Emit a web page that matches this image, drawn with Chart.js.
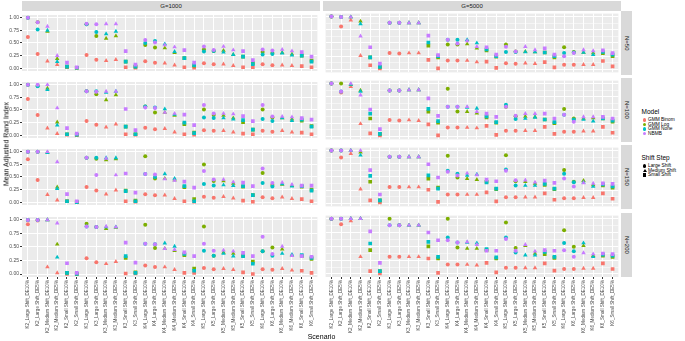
<!DOCTYPE html>
<html>
<head>
<meta charset="utf-8">
<script src="https://cdn.jsdelivr.net/npm/chart.js@4"></script>
<style>
body { margin: 0; background: #fff; }
#wrap { position: relative; width: 685px; height: 341px; overflow: hidden; font-family: "Liberation Sans", Arial, sans-serif; }
.pan { position: absolute; }
.strip { position: absolute; background: #D9D9D9; color: #1A1A1A; font-size: 6px; display: flex; align-items: center; justify-content: center; }
.vstrip span { writing-mode: vertical-rl; }
.lab { position: absolute; color: #000; white-space: nowrap; }
.ltxt { position: absolute; font-size: 4.8px; color: #000; white-space: nowrap; line-height: 1; }
.key { position: absolute; }
</style>
</head>
<body>
<div id="wrap"></div>
<script>
const categories = [
  "K2_Large Shift_DE10%", "K2_Large Shift_DE5%", "K2_Medium Shift_DE10%", "K2_Medium Shift_DE5%", "K2_Small Shift_DE10%", "K2_Small Shift_DE5%",
  "K3_Large Shift_DE10%", "K3_Large Shift_DE5%", "K3_Medium Shift_DE10%", "K3_Medium Shift_DE5%", "K3_Small Shift_DE10%", "K3_Small Shift_DE5%",
  "K4_Large Shift_DE10%", "K4_Large Shift_DE5%", "K4_Medium Shift_DE10%", "K4_Medium Shift_DE5%", "K4_Small Shift_DE10%", "K4_Small Shift_DE5%",
  "K5_Large Shift_DE10%", "K5_Large Shift_DE5%", "K5_Medium Shift_DE10%", "K5_Medium Shift_DE5%", "K5_Small Shift_DE10%", "K5_Small Shift_DE5%",
  "K6_Large Shift_DE10%", "K6_Large Shift_DE5%", "K6_Medium Shift_DE10%", "K6_Medium Shift_DE5%", "K6_Small Shift_DE10%", "K6_Small Shift_DE5%"
];
const models = ["GMM Binom", "GMM Log", "GMM None", "NBMB"];
const modelColors = ["#F8766D", "#7CAE00", "#00BFC4", "#C77CFF"];
const shiftSteps = ["Large Shift", "Medium Shift", "Small Shift"];
const groups = ["G=1000", "G=5000"];
const sampleSizes = ["N=50", "N=100", "N=150", "N=200"];
const yTickLabels = ["0.00", "0.25", "0.50", "0.75", "1.00"];

// G=1000
const g1000_n50_binom = [0.62,0.28,0.14,0.07,0.02,0.01, 0.26,0.17,0.15,0.17,0.02,0.01, 0.14,0.11,0.10,0.06,0.02,0.01, 0.10,0.08,0.08,0.05,0.02,0.02, 0.08,0.06,0.06,0.05,0.04,0.02];
const g1000_n50_log   = [1.00,0.91,0.73,0.19,0.03,0.01, 0.87,0.64,0.59,0.64,0.13,0.03, 0.46,0.41,0.40,0.31,0.20,0.05, 0.37,0.34,0.35,0.27,0.23,0.10, 0.32,0.30,0.31,0.28,0.25,0.15];
const g1000_n50_none  = [1.00,0.77,0.75,0.13,0.03,0.01, 0.87,0.72,0.68,0.73,0.13,0.03, 0.50,0.54,0.48,0.33,0.20,0.06, 0.33,0.34,0.32,0.27,0.23,0.08, 0.27,0.28,0.30,0.26,0.25,0.13];
const g1000_n50_nbmb  = [1.00,0.91,0.83,0.25,0.11,0.02, 0.88,0.87,0.88,0.88,0.34,0.07, 0.56,0.51,0.46,0.42,0.36,0.11, 0.43,0.36,0.43,0.36,0.34,0.16, 0.37,0.35,0.37,0.34,0.32,0.23];

const g1000_n100_binom = [0.72,0.40,0.14,0.03,0.01,0.00, 0.28,0.21,0.16,0.22,0.02,0.01, 0.15,0.12,0.13,0.06,0.02,0.01, 0.10,0.09,0.09,0.06,0.03,0.02, 0.09,0.07,0.09,0.06,0.05,0.02];
const g1000_n100_log   = [1.00,0.98,0.93,0.26,0.02,0.01, 0.87,0.81,0.70,0.80,0.17,0.02, 0.57,0.45,0.45,0.39,0.22,0.05, 0.51,0.40,0.39,0.34,0.26,0.11, 0.51,0.35,0.34,0.32,0.29,0.18];
const g1000_n100_none  = [1.00,0.97,0.90,0.20,0.02,0.01, 0.87,0.87,0.85,0.87,0.17,0.02, 0.57,0.55,0.52,0.41,0.25,0.04, 0.35,0.34,0.34,0.32,0.30,0.11, 0.32,0.28,0.34,0.29,0.31,0.17];
const g1000_n100_nbmb  = [1.00,1.00,1.00,0.54,0.14,0.03, 0.87,0.86,0.87,0.87,0.52,0.10, 0.55,0.54,0.45,0.43,0.41,0.20, 0.60,0.43,0.43,0.42,0.38,0.28, 0.60,0.37,0.37,0.36,0.34,0.31];

const g1000_n150_binom = [0.85,0.44,0.15,0.04,0.02,0.00, 0.30,0.23,0.16,0.24,0.02,0.01, 0.16,0.14,0.14,0.07,0.02,0.01, 0.11,0.09,0.11,0.08,0.03,0.01, 0.10,0.08,0.10,0.07,0.06,0.02];
const g1000_n150_log   = [1.00,1.00,0.99,0.30,0.02,0.00, 0.88,0.86,0.84,0.86,0.23,0.03, 0.91,0.47,0.47,0.44,0.30,0.06, 0.75,0.42,0.42,0.37,0.31,0.14, 0.58,0.34,0.35,0.33,0.31,0.25];
const g1000_n150_none  = [1.00,1.00,0.98,0.27,0.02,0.00, 0.88,0.88,0.88,0.88,0.22,0.02, 0.56,0.50,0.56,0.47,0.32,0.02, 0.36,0.33,0.34,0.33,0.32,0.14, 0.38,0.31,0.36,0.32,0.32,0.23];
const g1000_n150_nbmb  = [1.00,1.00,1.00,0.80,0.16,0.02, 0.88,0.54,0.87,0.54,0.57,0.19, 0.56,0.55,0.46,0.43,0.41,0.29, 0.62,0.45,0.45,0.40,0.39,0.32, 0.67,0.38,0.39,0.35,0.33,0.33];

const g1000_n200_binom = [0.92,0.99,0.13,0.02,0.00,0.00, 0.29,0.22,0.19,0.23,0.01,0.01, 0.16,0.13,0.13,0.08,0.02,0.02, 0.11,0.09,0.10,0.08,0.03,0.00, 0.09,0.08,0.10,0.07,0.06,0.02];
const g1000_n200_log   = [1.00,1.00,1.00,0.55,0.02,0.00, 0.93,0.87,0.84,0.86,0.30,0.03, 0.91,0.48,0.47,0.43,0.35,0.10, 0.88,0.34,0.40,0.38,0.34,0.23, 0.42,0.49,0.46,0.34,0.33,0.28];
const g1000_n200_none  = [1.00,1.00,1.00,0.31,0.02,0.00, 0.88,0.87,0.87,0.87,0.33,0.02, 0.56,0.55,0.57,0.51,0.37,0.06, 0.43,0.34,0.38,0.33,0.33,0.19, 0.42,0.34,0.38,0.36,0.35,0.30];
const g1000_n200_nbmb  = [1.00,1.00,1.00,0.94,0.20,0.02, 0.88,0.87,0.88,0.87,0.58,0.21, 0.56,0.55,0.47,0.45,0.40,0.33, 0.56,0.43,0.44,0.42,0.39,0.33, 0.69,0.37,0.51,0.34,0.33,0.32];

// G=5000
const g5000_n50_binom = [1.00,0.81,0.93,0.26,0.08,0.02, 0.31,0.30,0.31,0.31,0.18,0.02, 0.17,0.17,0.17,0.14,0.15,0.03, 0.12,0.11,0.12,0.11,0.14,0.04, 0.09,0.09,0.09,0.09,0.16,0.06];
const g5000_n50_log   = [1.00,0.99,0.99,0.91,0.23,0.05, 0.88,0.88,0.88,0.88,0.45,0.23, 0.47,0.47,0.48,0.40,0.36,0.24, 0.47,0.34,0.34,0.33,0.32,0.23, 0.42,0.33,0.32,0.31,0.31,0.25];
const g5000_n50_none  = [1.00,0.99,0.99,0.86,0.23,0.05, 0.88,0.88,0.88,0.88,0.51,0.25, 0.56,0.56,0.56,0.50,0.38,0.25, 0.33,0.33,0.33,0.33,0.32,0.25, 0.31,0.32,0.32,0.28,0.33,0.28];
const g5000_n50_nbmb  = [1.00,0.99,0.99,0.63,0.42,0.11, 0.88,0.88,0.88,0.88,0.64,0.27, 0.56,0.49,0.54,0.43,0.42,0.28, 0.43,0.34,0.43,0.37,0.40,0.28, 0.25,0.31,0.37,0.35,0.36,0.31];

const g5000_n100_binom = [1.00,0.83,0.94,0.24,0.06,0.02, 0.31,0.30,0.31,0.30,0.23,0.02, 0.17,0.17,0.17,0.16,0.20,0.03, 0.11,0.11,0.11,0.11,0.18,0.05, 0.09,0.09,0.10,0.10,0.18,0.07];
const g5000_n100_log   = [1.00,1.00,0.98,0.87,0.34,0.05, 0.87,0.87,0.88,0.88,0.47,0.26, 0.90,0.47,0.47,0.44,0.36,0.26, 0.56,0.38,0.38,0.37,0.32,0.25, 0.52,0.34,0.34,0.35,0.34,0.28];
const g5000_n100_none  = [1.00,0.85,0.98,0.85,0.43,0.05, 0.87,0.87,0.88,0.88,0.52,0.29, 0.56,0.56,0.55,0.53,0.38,0.27, 0.60,0.33,0.34,0.36,0.32,0.27, 0.41,0.32,0.32,0.29,0.34,0.30];
const g5000_n100_nbmb  = [1.00,0.85,1.00,0.78,0.51,0.14, 0.87,0.87,0.88,0.88,0.72,0.39, 0.56,0.56,0.56,0.47,0.43,0.37, 0.56,0.39,0.43,0.43,0.43,0.34, 0.41,0.28,0.37,0.37,0.37,0.34];

const g5000_n150_binom = [1.00,0.87,0.94,0.27,0.06,0.02, 0.31,0.31,0.31,0.31,0.26,0.03, 0.17,0.17,0.17,0.17,0.21,0.04, 0.12,0.12,0.12,0.12,0.19,0.07, 0.10,0.10,0.11,0.11,0.19,0.09];
const g5000_n150_log   = [1.00,1.00,1.00,0.97,0.41,0.06, 0.88,0.88,0.88,0.88,0.47,0.30, 0.90,0.49,0.47,0.45,0.41,0.27, 0.91,0.42,0.41,0.38,0.35,0.27, 0.63,0.41,0.43,0.35,0.34,0.30];
const g5000_n150_none  = [1.00,1.00,1.00,0.91,0.52,0.06, 0.88,0.88,0.88,0.88,0.53,0.28, 0.62,0.56,0.53,0.55,0.40,0.28, 0.64,0.34,0.34,0.34,0.37,0.28, 0.56,0.40,0.40,0.32,0.36,0.32];
const g5000_n150_nbmb  = [1.00,1.00,1.00,1.00,0.63,0.17, 0.88,0.88,0.88,0.88,0.74,0.49, 0.60,0.53,0.57,0.54,0.45,0.42, 0.62,0.44,0.44,0.40,0.43,0.39, 0.47,0.32,0.39,0.38,0.38,0.37];

const g5000_n200_binom = [1.00,0.90,0.96,0.31,0.05,0.01, 0.31,0.31,0.31,0.31,0.28,0.02, 0.17,0.17,0.17,0.16,0.20,0.03, 0.11,0.11,0.11,0.11,0.19,0.06, 0.09,0.09,0.10,0.10,0.19,0.09];
const g5000_n200_log   = [1.00,1.00,1.00,1.00,0.43,0.05, 1.00,0.88,0.88,0.88,0.50,0.28, 1.00,0.48,0.46,0.46,0.43,0.28, 0.93,0.47,0.51,0.37,0.36,0.29, 0.79,0.49,0.51,0.33,0.33,0.31];
const g5000_n200_none  = [1.00,1.00,1.00,1.00,0.55,0.05, 0.88,0.88,0.88,0.88,0.58,0.31, 0.66,0.57,0.57,0.56,0.45,0.30, 0.66,0.39,0.34,0.34,0.40,0.31, 0.56,0.41,0.56,0.31,0.35,0.33];
const g5000_n200_nbmb  = [1.00,1.00,1.00,1.00,0.77,0.20, 0.88,0.88,0.88,0.88,0.75,0.61, 0.61,0.57,0.58,0.53,0.42,0.42, 0.63,0.42,0.53,0.41,0.43,0.42, 0.43,0.31,0.38,0.36,0.37,0.36];

// panels[row][col] -> series in model order
const panels = [
  [[g1000_n50_binom, g1000_n50_log, g1000_n50_none, g1000_n50_nbmb], [g5000_n50_binom, g5000_n50_log, g5000_n50_none, g5000_n50_nbmb]],
  [[g1000_n100_binom, g1000_n100_log, g1000_n100_none, g1000_n100_nbmb], [g5000_n100_binom, g5000_n100_log, g5000_n100_none, g5000_n100_nbmb]],
  [[g1000_n150_binom, g1000_n150_log, g1000_n150_none, g1000_n150_nbmb], [g5000_n150_binom, g5000_n150_log, g5000_n150_none, g5000_n150_nbmb]],
  [[g1000_n200_binom, g1000_n200_log, g1000_n200_none, g1000_n200_nbmb], [g5000_n200_binom, g5000_n200_log, g5000_n200_none, g5000_n200_nbmb]]
];

const shapeOf = { "Large Shift": "circle", "Medium Shift": "triangle", "Small Shift": "rect" };
const radiusOf = { circle: 2.0, triangle: 2.6, rect: 2.6 };
const catShape = categories.map(c => shapeOf[c.split("_")[1]]);

// layout (px)
const colLeft = [0, 323];
const yAxisW = 22;
const panelW = 298;
const rowTop = [11, 78, 145, 213];
const panelH = 64;
const xAxisH = 64;

const wrap = document.getElementById("wrap");

const panelBg = {
  id: "panelBg",
  beforeDraw(chart) {
    const a = chart.chartArea, ctx = chart.ctx;
    ctx.save();
    ctx.fillStyle = "#EBEBEB";
    ctx.fillRect(a.left, a.top, a.right - a.left, a.bottom - a.top);
    ctx.restore();
  }
};

const isMajor = v => Math.abs(v * 4 - Math.round(v * 4)) < 1e-6;

function makePanel(row, col) {
  const w = (col === 0 ? yAxisW : 0) + panelW;
  const h = panelH + (row === 3 ? xAxisH : 0);
  const div = document.createElement("div");
  div.className = "pan";
  div.style.left = (col === 0 ? colLeft[0] : colLeft[1]) + "px";
  div.style.top = rowTop[row] + "px";
  const cv = document.createElement("canvas");
  cv.width = w; cv.height = h;
  cv.style.width = w + "px"; cv.style.height = h + "px";
  div.appendChild(cv);
  wrap.appendChild(div);

  const series = panels[row][col];
  new Chart(cv, {
    type: "line",
    data: {
      datasets: models.map((m, k) => ({
        label: m,
        data: series[k].map((v, i) => ({ x: i, y: v })),
        showLine: false,
        order: models.length - 1 - k,
        pointBackgroundColor: modelColors[k],
        pointBorderWidth: 0,
        pointBorderColor: modelColors[k],
        pointStyle: ctx => catShape[ctx.dataIndex],
        pointRadius: ctx => radiusOf[catShape[ctx.dataIndex]],
        pointHoverRadius: 0
      }))
    },
    options: {
      responsive: false,
      animation: false,
      devicePixelRatio: 1,
      layout: { padding: 0 },
      plugins: { legend: { display: false }, tooltip: { enabled: false } },
      scales: {
        x: {
          type: "linear",
          min: -0.6, max: categories.length - 0.4,
          afterBuildTicks: s => { s.ticks = categories.map((c, i) => ({ value: i })); },
          afterFit: s => { s.height = row === 3 ? xAxisH : 0; },
          border: { display: false },
          grid: { color: "#FFFFFF", lineWidth: 1, drawTicks: row === 3, tickLength: 2, tickColor: "#333333" },
          ticks: {
            display: row === 3, autoSkip: false, maxRotation: 90, minRotation: 90,
            padding: 1, color: "#4D4D4D",
            font: { family: "Liberation Sans", size: 4.6 },
            callback: v => categories[v]
          }
        },
        y: {
          type: "linear",
          min: -0.055, max: 1.055,
          afterBuildTicks: s => {
            const t = [];
            for (let k = 0; k <= 8; k++) t.push({ value: k * 0.125 });
            s.ticks = t;
          },
          afterFit: s => { s.width = col === 0 ? yAxisW : 0; },
          border: { display: false },
          grid: {
            color: "#FFFFFF",
            lineWidth: ctx => (ctx.tick && isMajor(ctx.tick.value)) ? 1 : 0.5,
            drawTicks: col === 0, tickLength: 2,
            tickColor: ctx => (ctx.tick && isMajor(ctx.tick.value)) ? "#333333" : "rgba(0,0,0,0)"
          },
          ticks: {
            display: col === 0, padding: 1, color: "#4D4D4D",
            font: { family: "Liberation Sans", size: 5 },
            callback: v => isMajor(v) ? yTickLabels[Math.round(v * 4)] : ""
          }
        }
      }
    },
    plugins: [panelBg]
  });
}

for (let r = 0; r < 4; r++) for (let c = 0; c < 2; c++) makePanel(r, c);

// facet strips
groups.forEach((g, c) => {
  const s = document.createElement("div");
  s.className = "strip";
  const left = c === 0 ? colLeft[0] + yAxisW : colLeft[1];
  s.style.left = left + "px"; s.style.top = "1px";
  s.style.width = panelW + "px"; s.style.height = (rowTop[0] - 1) + "px";
  s.textContent = g;
  wrap.appendChild(s);
});
sampleSizes.forEach((n, r) => {
  const s = document.createElement("div");
  s.className = "strip vstrip";
  s.style.left = (colLeft[1] + panelW) + "px"; s.style.top = rowTop[r] + "px";
  s.style.width = "11px"; s.style.height = panelH + "px";
  const sp = document.createElement("span");
  sp.textContent = n;
  s.appendChild(sp);
  wrap.appendChild(s);
});

// axis titles
const yt = document.createElement("div");
yt.className = "lab";
yt.style.fontSize = "7px";
yt.textContent = "Mean Adjusted Rand Index";
yt.style.left = "5.5px"; yt.style.top = "144px";
yt.style.transform = "translate(-50%,-50%) rotate(-90deg)";
wrap.appendChild(yt);

const xt = document.createElement("div");
xt.className = "lab";
xt.style.fontSize = "7px";
xt.textContent = "Scenario";
xt.style.left = "321.5px"; xt.style.top = "336px";
xt.style.transform = "translate(-50%,-50%)";
wrap.appendChild(xt);

// legend
function addTitle(text, y) {
  const t = document.createElement("div");
  t.className = "lab";
  t.style.fontSize = "6.5px";
  t.style.left = "641.5px"; t.style.top = y + "px";
  t.style.transform = "translateY(-50%)";
  t.textContent = text;
  wrap.appendChild(t);
}
function addKey(shape, color, y) {
  const k = document.createElement("div");
  k.className = "key";
  if (shape === "circle") {
    k.style.cssText += "left:642.7px;top:" + (y - 1.8) + "px;width:3.6px;height:3.6px;border-radius:50%;background:" + color;
  } else if (shape === "triangle") {
    k.style.cssText += "left:642.5px;top:" + (y - 2) + "px;width:0;height:0;border-left:2px solid transparent;border-right:2px solid transparent;border-bottom:3.6px solid " + color;
  } else {
    k.style.cssText += "left:642.9px;top:" + (y - 1.6) + "px;width:3.2px;height:3.2px;background:" + color;
  }
  wrap.appendChild(k);
}
function addText(text, y) {
  const t = document.createElement("div");
  t.className = "ltxt";
  t.style.left = "648px"; t.style.top = y + "px";
  t.style.transform = "translateY(-50%)";
  t.textContent = text;
  wrap.appendChild(t);
}
addTitle("Model", 111);
models.forEach((m, k) => {
  const y = 120 + k * 4.5;
  addKey("circle", modelColors[k], y);
  addText(m, y);
});
addTitle("Shift Step", 157);
shiftSteps.forEach((s, k) => {
  const y = 166 + k * 4.5;
  addKey(shapeOf[s], "#000000", y);
  addText(s, y);
});
</script>
</body>
</html>
